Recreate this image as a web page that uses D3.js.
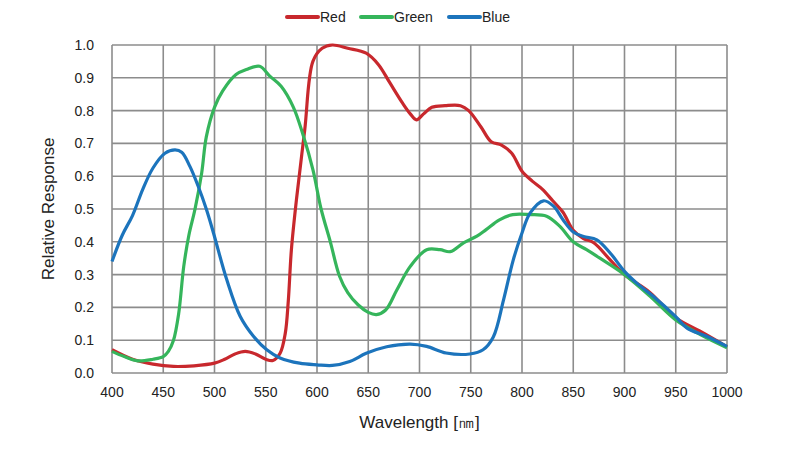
<!DOCTYPE html>
<html>
<head>
<meta charset="utf-8">
<script src="https://cdn.jsdelivr.net/npm/d3@7"></script>
<style>
  body { margin: 0; background: #fff; }
  svg { font-family: Arial, "Liberation Sans", sans-serif; }
</style>
</head>
<body>
<div id="chart"></div>
<script>
// spectral response curves
const redWl = [400,420,440,460,480,500,510,520,530,540,550,557,564,569,572,575,580,588,596,605,615,630,648,660,671,683,691,697,704,712,725,740,748,760,770,780,790,800,810,820,830,840,850,860,870,886,900,925,950,975,1000];
const redVal = [0.071,0.042,0.027,0.02,0.022,0.03,0.042,0.058,0.066,0.058,0.042,0.038,0.06,0.12,0.22,0.375,0.53,0.74,0.95,0.99,1.0,0.99,0.975,0.94,0.885,0.825,0.79,0.772,0.79,0.81,0.815,0.815,0.8,0.75,0.705,0.695,0.67,0.615,0.585,0.56,0.525,0.49,0.435,0.41,0.397,0.345,0.30,0.245,0.168,0.125,0.08];

const greenWl = [400,412,425,440,450,455,460,465,470,475,481,487.5,492,500,508,521,531,544,554,565,577,586,596,604,613,622,630,640,650,658,667,678,691,707,720,730,743,756,765,778,791,808,824,837,850,863,876,900,925,950,974,1000];
const greenVal = [0.066,0.05,0.037,0.042,0.05,0.066,0.10,0.18,0.325,0.42,0.50,0.61,0.72,0.81,0.86,0.91,0.925,0.935,0.905,0.874,0.81,0.73,0.62,0.50,0.40,0.295,0.245,0.208,0.185,0.178,0.192,0.254,0.325,0.376,0.376,0.37,0.397,0.417,0.437,0.467,0.483,0.483,0.478,0.447,0.40,0.376,0.35,0.30,0.234,0.162,0.117,0.077];

const blueWl = [400,410,420,430,440,451.7,461.5,468,476,484,492,499,512,525,538,551,564,583,600,615,632,648,668,691,707,726,749,762,772,782,791.5,800,808,821,831,840,850,860,873,886,900,912,928,950,961,980,1000];
const blueVal = [0.34,0.42,0.48,0.56,0.625,0.67,0.68,0.673,0.63,0.57,0.50,0.427,0.284,0.173,0.112,0.071,0.046,0.03,0.025,0.023,0.035,0.06,0.08,0.088,0.081,0.061,0.058,0.071,0.11,0.223,0.345,0.427,0.488,0.525,0.508,0.467,0.43,0.416,0.406,0.366,0.31,0.274,0.234,0.172,0.137,0.112,0.081];

const xTicks = d3.range(400, 1001, 50);
const yTicks = d3.range(0, 11).map(i => i / 10);

const series = [
  { name: 'Red', color: '#c8282d', wl: redWl, val: redVal },
  { name: 'Green', color: '#35b55b', wl: greenWl, val: greenVal },
  { name: 'Blue', color: '#1c74bc', wl: blueWl, val: blueVal }
];

const W = 809, H = 456;
const margin = { left: 112, top: 45, right: 82, bottom: 83 };
const iw = W - margin.left - margin.right;
const ih = H - margin.top - margin.bottom;

const svg = d3.select('#chart').append('svg')
  .attr('width', W)
  .attr('height', H);

const g = svg.append('g').attr('transform', `translate(${margin.left},${margin.top})`);

const x = d3.scaleLinear().domain([400, 1000]).range([0, iw]);
const y = d3.scaleLinear().domain([0, 1]).range([ih, 0]);

// grid
const gridColor = '#8c8c8c';
g.selectAll('line.vgrid')
  .data(xTicks)
  .join('line')
  .attr('class', 'vgrid')
  .attr('x1', d => x(d)).attr('x2', d => x(d))
  .attr('y1', 0).attr('y2', ih)
  .attr('stroke', gridColor)
  .attr('stroke-width', 1.6);

g.selectAll('line.hgrid')
  .data(yTicks)
  .join('line')
  .attr('class', 'hgrid')
  .attr('x1', 0).attr('x2', iw)
  .attr('y1', d => y(d)).attr('y2', d => y(d))
  .attr('stroke', gridColor)
  .attr('stroke-width', 1.6);

// tick labels
g.selectAll('text.xtick')
  .data(xTicks)
  .join('text')
  .attr('class', 'xtick')
  .attr('x', d => x(d))
  .attr('y', ih + 24)
  .attr('text-anchor', 'middle')
  .attr('font-size', 14)
  .attr('fill', '#222')
  .text(d => d);

g.selectAll('text.ytick')
  .data(yTicks)
  .join('text')
  .attr('class', 'ytick')
  .attr('x', -18)
  .attr('y', d => y(d) + 5)
  .attr('text-anchor', 'end')
  .attr('font-size', 14)
  .attr('fill', '#222')
  .text(d => d.toFixed(1));

// curves
const line = d3.line()
  .x(d => x(d[0]))
  .y(d => y(d[1]))
  .curve(d3.curveCatmullRom.alpha(0.5));

g.selectAll('path.curve')
  .data(series)
  .join('path')
  .attr('class', 'curve')
  .attr('fill', 'none')
  .attr('stroke', d => d.color)
  .attr('stroke-width', 3.2)
  .attr('stroke-linejoin', 'round')
  .attr('d', d => line(d.wl.map((w, i) => [w, d.val[i]])));

// axis titles
svg.append('text')
  .attr('x', margin.left + iw / 2)
  .attr('y', 428)
  .attr('text-anchor', 'middle')
  .attr('font-size', 17)
  .attr('fill', '#222')
  .text('Wavelength [㎚]');

svg.append('text')
  .attr('transform', `translate(54,${margin.top + ih / 2}) rotate(-90)`)
  .attr('text-anchor', 'middle')
  .attr('font-size', 17)
  .attr('fill', '#222')
  .text('Relative Response');

// legend
const legendX = [287, 361, 449];
const leg = svg.selectAll('g.legend')
  .data(series)
  .join('g')
  .attr('class', 'legend')
  .attr('transform', (d, i) => `translate(${legendX[i]},17)`);

leg.append('line')
  .attr('x1', 0).attr('x2', 31)
  .attr('stroke', d => d.color)
  .attr('stroke-width', 4)
  .attr('stroke-linecap', 'round');

leg.append('text')
  .attr('x', 33)
  .attr('y', 5)
  .attr('font-size', 14)
  .attr('fill', '#222')
  .text(d => d.name);
</script>
</body>
</html>
